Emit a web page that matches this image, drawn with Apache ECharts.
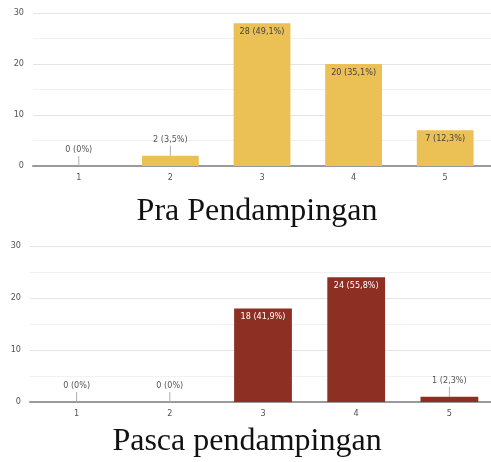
<!DOCTYPE html>
<html>
<head>
<meta charset="utf-8">
<script src="https://cdn.jsdelivr.net/npm/echarts@6/dist/echarts.min.js"></script>
<style>
html,body{margin:0;padding:0;background:#fff;overflow:hidden;width:491px;height:462px;}
#c{width:500px;height:462px;}
</style>
</head>
<body>
<div id="c"></div>
<script>
const categories = ['1', '2', '3', '4', '5'];
const preCounts = [0, 2, 28, 20, 7];
const prePercents = ['0%', '3,5%', '49,1%', '35,1%', '12,3%'];
const postCounts = [0, 0, 18, 24, 1];
const postPercents = ['0%', '0%', '41,9%', '55,8%', '2,3%'];
const yTickLabels = [0, 10, 20, 30];
const captions = ['Pra Pendampingan', 'Pasca pendampingan'];

const NARROW = '"Liberation Sans Narrow", "Arial Narrow", "DejaVu Sans Condensed", sans-serif';
const SERIF = '"Liberation Serif", "Times New Roman", serif';
const LBL = 9;

function buildData(counts, pcts, insideColor) {
  return counts.map((v, i) => {
    const txt = v + ' (' + pcts[i] + ')';
    if (v >= 5) {
      return {
        value: v,
        label: {
          show: true, position: 'insideTop', distance: 4,
          color: insideColor, fontSize: LBL, fontFamily: NARROW,
          formatter: () => txt
        }
      };
    }
    return {
      value: v,
      label: {
        show: true, position: 'top', distance: 0,
        fontFamily: NARROW,
        formatter: () => '{t|' + txt + '}\n{l|}',
        rich: {
          t: { color: '#555', fontSize: LBL, fontFamily: NARROW, lineHeight: 12 },
          l: { width: 1, height: 10, backgroundColor: '#b0b0b0' }
        }
      }
    };
  });
}

function xAxis(gi) {
  return {
    type: 'category', gridIndex: gi, data: categories,
    axisLine: { show: true, lineStyle: { color: '#9a9a9a', width: 2 } },
    axisTick: { show: false },
    axisLabel: { color: '#555', fontSize: LBL, fontFamily: NARROW, margin: 7 }
  };
}
function yAxis(gi) {
  return {
    type: 'value', gridIndex: gi, min: 0, max: 30, interval: 5,
    axisLine: { show: false }, axisTick: { show: false },
    axisLabel: {
      color: '#555', fontSize: LBL, fontFamily: NARROW, margin: 9,
      formatter: v => (yTickLabels.indexOf(v) >= 0 ? String(v) : '')
    },
    splitLine: { show: true, lineStyle: { color: ['#e4e4e4', '#f1f1f1'], width: 1 } }
  };
}

const chart = echarts.init(document.getElementById('c'), null, { renderer: 'canvas' });
chart.setOption({
  animation: false,
  backgroundColor: '#ffffff',
  grid: [
    { left: 33, top: 13, width: 458, height: 153 },
    { left: 30, top: 246, width: 466, height: 156 }
  ],
  xAxis: [xAxis(0), xAxis(1)],
  yAxis: [yAxis(0), yAxis(1)],
  series: [
    {
      type: 'bar', xAxisIndex: 0, yAxisIndex: 0, barWidth: '62%',
      itemStyle: { color: '#ebc054' },
      data: buildData(preCounts, prePercents, '#444')
    },
    {
      type: 'bar', xAxisIndex: 1, yAxisIndex: 1, barWidth: '62%',
      itemStyle: { color: '#8e2f24' },
      data: buildData(postCounts, postPercents, '#ffffff')
    }
  ],
  graphic: [
    { type: 'text', x: 257, y: 212, style: { text: captions[0], font: '32px ' + SERIF, fill: '#111', align: 'center', verticalAlign: 'middle' } },
    { type: 'text', x: 247, y: 442, style: { text: captions[1], font: '32px ' + SERIF, fill: '#111', align: 'center', verticalAlign: 'middle' } }
  ]
});
</script>
</body>
</html>
